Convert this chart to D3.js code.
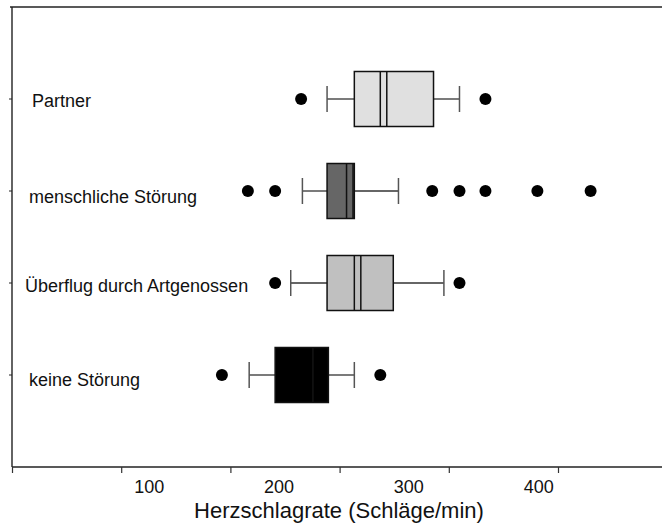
<!DOCTYPE html>
<html>
<head>
<meta charset="utf-8">
<script src="https://cdn.jsdelivr.net/npm/d3@7"></script>
<style>
  html, body { margin: 0; padding: 0; background: #fff; }
  svg { display: block; font-family: "Liberation Sans", Arial, sans-serif; }
</style>
</head>
<body>
<svg id="chart" width="662" height="527"></svg>
<script>
// Groups, bottom to top
const categories = ["keine Störung", "Überflug durch Artgenossen", "menschliche Störung", "Partner"];
// Box statistics per group (Herzschlagrate, Schläge/min)
const whiskerLow  = [177, 209, 218, 237];
const q1          = [197, 237, 237, 258];
const median      = [226, 258, 252, 278];
const mean        = [226, 263, 257, 283];
const q3          = [238, 288, 258, 319];
const whiskerHigh = [258, 327, 292, 339];
const outliers    = [
  [156, 278],
  [197, 339],
  [176, 197, 318, 339, 359, 399, 440],
  [217, 359]
];
const boxColors = ["#000000", "#c0c0c0", "#666666", "#e0e0e0"];
const tickLabels = [100, 200, 300, 400];
const tickMarks = [0, 100, 200, 300, 400, 500];

const svg = d3.select("#chart");
const plotLeft = 12, plotRight = 662, plotTop = 7, plotBottom = 467;

const x = d3.scaleLinear().domain([-5.7, 495]).range([plotLeft, plotRight]);
// tick marks are spaced on their own grid along the axis
const xTicks = d3.scaleLinear().domain([0, 500]).range([plotLeft, plotLeft + 5 * 109.2]);
const y = d3.scalePoint().domain(categories).range([plotBottom, plotTop]).padding(1);

const boxH = 55, capH = 26;

// frame: top and left lines
svg.append("line").attr("x1", plotLeft - 2).attr("x2", plotRight).attr("y1", plotTop).attr("y2", plotTop)
  .attr("stroke", "#222").attr("stroke-width", 1.6);
svg.append("line").attr("x1", plotLeft).attr("x2", plotLeft).attr("y1", plotTop).attr("y2", plotBottom)
  .attr("stroke", "#222").attr("stroke-width", 1.4);

// bottom axis
const gx = svg.append("g").attr("transform", `translate(0,${plotBottom})`)
  .call(d3.axisBottom(xTicks).tickValues(tickMarks).tickSize(6).tickSizeOuter(0).tickFormat(""));
gx.select(".domain").attr("stroke", "#222").attr("stroke-width", 1.4).attr("d", `M${plotLeft},0H${plotRight}`);
gx.selectAll(".tick line").attr("stroke", "#333").attr("stroke-width", 1.2);

svg.append("g").selectAll("text").data(tickLabels).join("text")
  .attr("x", d => x(d)).attr("y", plotBottom + 26)
  .attr("text-anchor", "middle").attr("font-size", 18).attr("fill", "#111")
  .text(d => d);

svg.append("text").attr("x", 339).attr("y", 518)
  .attr("text-anchor", "middle").attr("font-size", 22).attr("fill", "#111")
  .text("Herzschlagrate (Schläge/min)");

// left axis ticks
svg.append("g").selectAll("line").data(categories).join("line")
  .attr("x1", plotLeft - 3).attr("x2", plotLeft).attr("y1", d => y(d)).attr("y2", d => y(d))
  .attr("stroke", "#222").attr("stroke-width", 1);

// category labels
const labelX = [29, 25, 29, 32];
const labelDy = [5, 3, 6, 2];
svg.append("g").selectAll("text").data(categories).join("text")
  .attr("x", (d, i) => labelX[i]).attr("y", (d, i) => y(d) + labelDy[i])
  .attr("dy", "0.32em").attr("font-size", 18).attr("fill", "#111")
  .text(d => d);

// boxes
const g = svg.append("g").selectAll("g").data(categories).join("g")
  .attr("transform", d => `translate(0,${y(d)})`);

g.append("line")
  .attr("x1", (d, i) => x(whiskerLow[i])).attr("x2", (d, i) => x(q1[i]))
  .attr("stroke", "#333").attr("stroke-width", 1.3);
g.append("line")
  .attr("x1", (d, i) => x(q3[i])).attr("x2", (d, i) => x(whiskerHigh[i]))
  .attr("stroke", "#333").attr("stroke-width", 1.3);
g.append("line")
  .attr("x1", (d, i) => x(whiskerLow[i])).attr("x2", (d, i) => x(whiskerLow[i]))
  .attr("y1", -capH / 2).attr("y2", capH / 2)
  .attr("stroke", "#555").attr("stroke-width", 1.5);
g.append("line")
  .attr("x1", (d, i) => x(whiskerHigh[i])).attr("x2", (d, i) => x(whiskerHigh[i]))
  .attr("y1", -capH / 2).attr("y2", capH / 2)
  .attr("stroke", "#555").attr("stroke-width", 1.5);

g.append("rect")
  .attr("x", (d, i) => x(q1[i])).attr("width", (d, i) => x(q3[i]) - x(q1[i]))
  .attr("y", -boxH / 2).attr("height", boxH)
  .attr("fill", (d, i) => boxColors[i])
  .attr("stroke", "#111").attr("stroke-width", 1.5);

// median and mean lines
g.append("line")
  .attr("x1", (d, i) => x(median[i])).attr("x2", (d, i) => x(median[i]))
  .attr("y1", -boxH / 2).attr("y2", boxH / 2)
  .attr("stroke", "#111").attr("stroke-width", 1.5);
g.append("line")
  .attr("x1", (d, i) => x(mean[i])).attr("x2", (d, i) => x(mean[i]))
  .attr("y1", -boxH / 2).attr("y2", boxH / 2)
  .attr("stroke", "#111").attr("stroke-width", 1.5);

g.selectAll("circle").data((d, i) => outliers[i]).join("circle")
  .attr("cx", v => x(v)).attr("cy", 0).attr("r", 6).attr("fill", "#000");
</script>
</body>
</html>
